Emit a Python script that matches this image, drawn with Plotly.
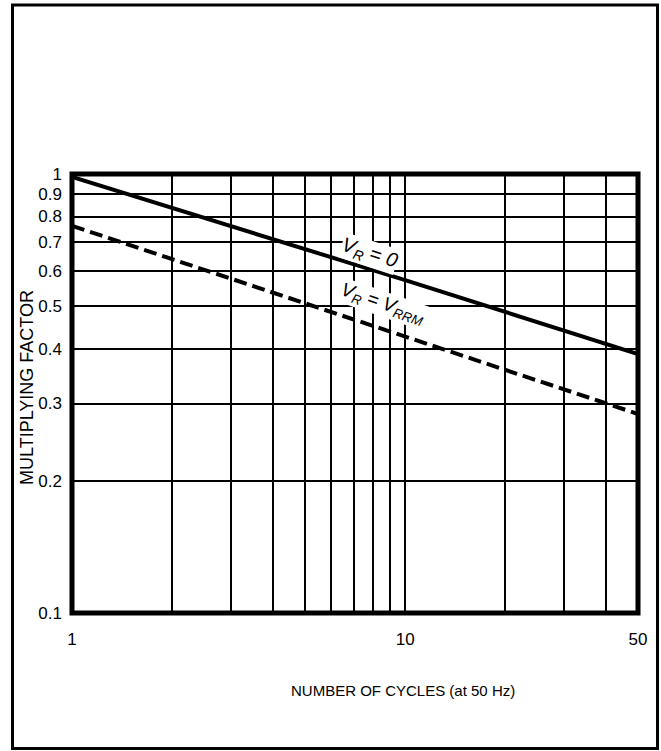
import plotly.graph_objects as go

# ---- data ----
cycles = [1, 10, 50]
factor_vr0 = [0.985, 0.573, 0.389]      # V_R = 0 (solid)
factor_vrrm = [0.762, 0.426, 0.284]     # V_R = V_RRM (dashed)

y_ticks = [0.1, 0.2, 0.3, 0.4, 0.5, 0.6, 0.7, 0.8, 0.9, 1]
y_ticktext = ["0.1", "0.2", "0.3", "0.4", "0.5", "0.6", "0.7", "0.8", "0.9", "1"]
x_ticks = [1, 2, 3, 4, 5, 6, 7, 8, 9, 10, 20, 30, 40, 50]
x_ticktext = ["1", "", "", "", "", "", "", "", "", "10", "", "", "", "50"]

W, H = 661, 751
# plot area in page pixels: x 72..638.5, y 174..613
L, R, T, B = 72, 661 - 638, 174, 751 - 613
PW, PH = W - L - R, H - T - B


def px(x):
    """page pixel x -> paper coordinate"""
    return (x - L) / PW


def py(y):
    """page pixel y -> paper coordinate"""
    return (H - B - y) / PH


FONT = "Liberation Sans, Arial, sans-serif"

fig = go.Figure()
fig.add_trace(go.Scatter(x=cycles, y=factor_vr0, mode="lines",
                         line=dict(color="black", width=4), showlegend=False))
fig.add_trace(go.Scatter(x=cycles, y=factor_vrrm, mode="lines",
                         line=dict(color="black", width=4, dash="13px,6px"),
                         showlegend=False))

fig.update_layout(
    width=W, height=H,
    margin=dict(l=L, r=R, t=T, b=B),
    paper_bgcolor="white", plot_bgcolor="white",
    font=dict(family=FONT, color="black", size=16),
    xaxis=dict(type="log", range=[0, 1.69897], tickvals=x_ticks, ticktext=x_ticktext,
               showgrid=True, gridcolor="black", gridwidth=2, showline=False,
               ticks="", ticklabelstandoff=14, tickfont=dict(size=17)),
    yaxis=dict(type="log", range=[-1, 0], tickvals=y_ticks, ticktext=y_ticktext,
               showgrid=True, gridcolor="black", gridwidth=2, showline=False,
               ticks="", ticklabelstandoff=9, tickfont=dict(size=17)),
    shapes=[
        # plot frame
        dict(type="rect", xref="paper", yref="paper", x0=0, x1=1, y0=0, y1=1,
             line=dict(color="black", width=5), layer="above"),
        # outer border
        dict(type="rect", xref="paper", yref="paper",
             x0=px(12.5), x1=px(657.5), y0=py(748.5), y1=py(5),
             line=dict(color="black", width=3), layer="above"),
    ],
    annotations=[
        dict(text="MULTIPLYING FACTOR", xref="paper", yref="paper",
             x=px(27), y=py(388), textangle=-90, showarrow=False,
             font=dict(size=18, family=FONT), xanchor="center", yanchor="middle"),
        dict(text="NUMBER OF CYCLES (at 50 Hz)", xref="paper", yref="paper",
             x=px(403), y=py(690), showarrow=False,
             font=dict(size=15, family=FONT), xanchor="center", yanchor="middle"),
        dict(text="<i>V<sub>R</sub> = 0</i>", xref="paper", yref="paper",
             x=px(369), y=py(253), textangle=18, showarrow=False,
             bgcolor="white", borderpad=0,
             font=dict(size=20, family=FONT), xanchor="center", yanchor="middle"),
        dict(text="<i>V<sub>R</sub> = V<sub>RRM</sub></i>", xref="paper", yref="paper",
             x=px(383), y=py(304), textangle=19, showarrow=False,
             bgcolor="white", borderpad=0,
             font=dict(size=19, family=FONT), xanchor="center", yanchor="middle"),
    ],
)

fig.write_html(
    "out.html",
    config={"displayModeBar": False},
    post_script="document.body.style.margin='0';document.body.style.overflow='hidden';",
)
